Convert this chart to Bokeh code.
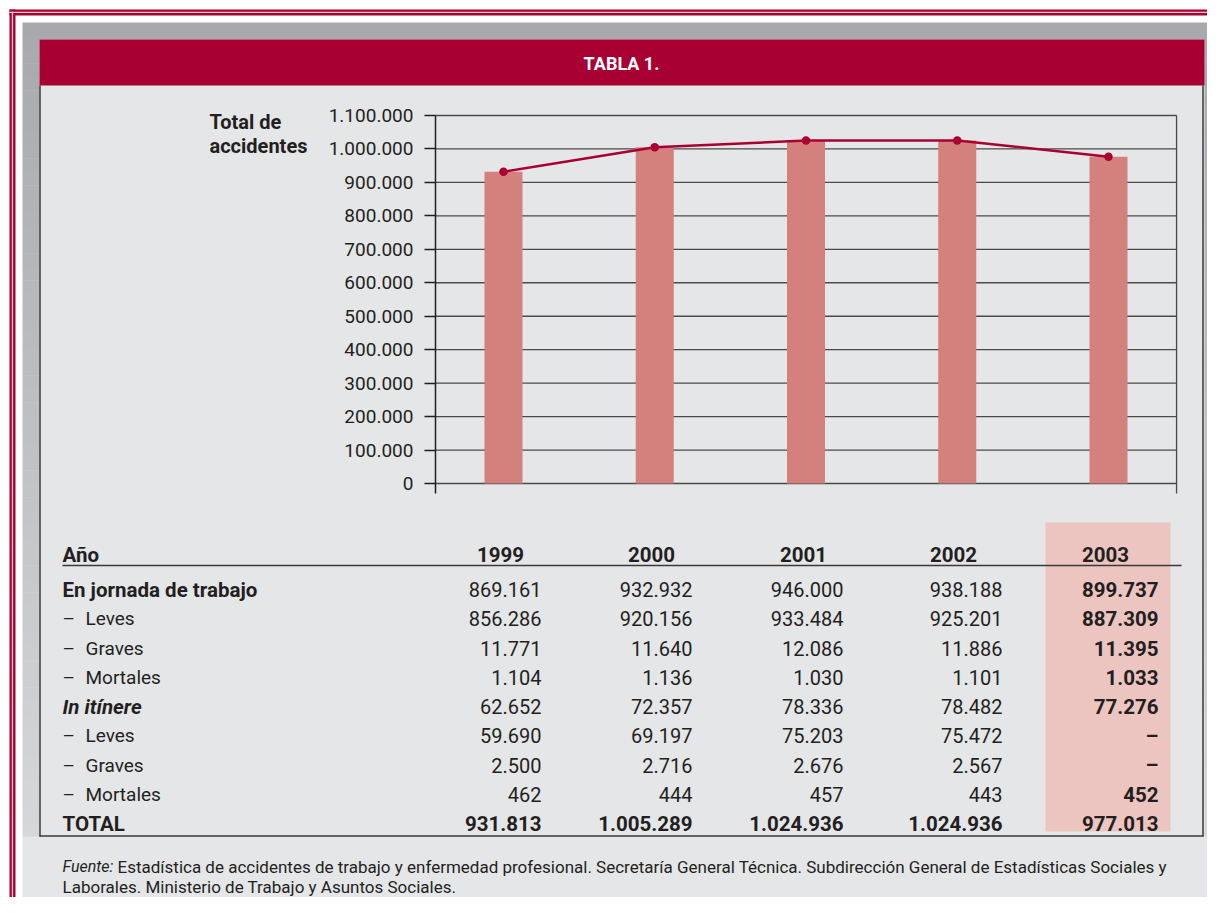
import numpy as np
from bokeh.plotting import figure
from bokeh.models import Range1d, LinearAxis, FixedTicker, ColumnDataSource
from bokeh.core.properties import value
from bokeh.embed import file_html
from bokeh.resources import INLINE

# ------------------------------------------------------------------ data
years = ["1999", "2000", "2001", "2002", "2003"]
total_accidents = [931813, 1005289, 1024936, 1024936, 977013]
y_ticks = [0, 100000, 200000, 300000, 400000, 500000, 600000, 700000,
           800000, 900000, 1000000, 1100000]
y_tick_labels = ["0", "100.000", "200.000", "300.000", "400.000", "500.000",
                 "600.000", "700.000", "800.000", "900.000", "1.000.000",
                 "1.100.000"]
title = "TABLA 1."
y_title = ["Total de", "accidentes"]
header_label = "Año"
row_labels = ["En jornada de trabajo", "Leves", "Graves", "Mortales",
              "In itínere", "Leves", "Graves", "Mortales", "TOTAL"]
row_kind = ["group", "sub", "sub", "sub", "group_italic", "sub", "sub", "sub",
            "total"]
v1999 = [869161, 856286, 11771, 1104, 62652, 59690, 2500, 462, 931813]
v2000 = [932932, 920156, 11640, 1136, 72357, 69197, 2716, 444, 1005289]
v2001 = [946000, 933484, 12086, 1030, 78336, 75203, 2676, 457, 1024936]
v2002 = [938188, 925201, 11886, 1101, 78482, 75472, 2567, 443, 1024936]
v2003 = [899737, 887309, 11395, 1033, 77276, None, None, 452, 977013]
note_italic = "Fuente:"
note_lines = [
    "Estadística de accidentes de trabajo y enfermedad profesional. Secretaría General Técnica. Subdirección General de Estadísticas Sociales y",
    "Laborales. Ministerio de Trabajo y Asuntos Sociales.",
]

# ------------------------------------------------------------------ styles
FONT = "Roboto"
TXT = "#231f20"
RED = "#a80032"
BAR = "#d4807c"
HILITE = "#ecc5c0"
PANEL = "#e5e6e8"
LINE = "#3a3a3a"

W, H = 1207, 897

p = figure(width=W, height=H, x_range=Range1d(0, W),
           y_range=Range1d(H, 0), output_backend="svg",
           toolbar_location=None, x_axis_type=None, y_axis_type=None,
           min_border=0, outline_line_color=None,
           background_fill_color="white", border_fill_color="white")

# ------------------------------------------------------------ decoration
# outer red rules
p.quad(left=9, right=W, top=9, bottom=15, color=RED, line_color=None)
p.quad(left=9, right=15, top=9, bottom=H, color=RED, line_color=None)
p.quad(left=9, right=W, top=11.3, bottom=12.6, color="#f3c9d3", line_color=None)
p.quad(left=11.3, right=12.6, top=11.3, bottom=H, color="#f3c9d3", line_color=None)

# grey frame with a soft vertical gradient
n_b = 60
edges = np.linspace(22, 836, n_b + 1)
c0 = np.array([168, 169, 173])
c1 = np.array([214, 215, 217])
cols = ["#%02x%02x%02x" % tuple(int(round(v)) for v in c0 + (c1 - c0) * t)
        for t in np.linspace(0, 1, n_b)]
p.quad(left=22, right=W, top=edges[:-1], bottom=edges[1:] + 0.5,
       color=cols, line_color=None)
p.quad(left=22, right=W, top=836, bottom=903, color=PANEL, line_color=None)

# inner panel and header
p.quad(left=39, right=1204, top=39, bottom=836, color=PANEL, line_color=None)
p.quad(left=39, right=1204, top=39, bottom=85, color=RED, line_color=None)
p.text(x=[621], y=[63], text=[title], text_color="white",
       text_font=value(FONT), text_font_style="bold",
       text_font_size=value("18px"), text_align="center",
       text_baseline="middle")
# panel / table box border
p.segment(x0=[39.5, 1202.5, 39], y0=[85, 85, 835.5],
          x1=[39.5, 1202.5, 1203], y1=[836, 836, 835.5],
          line_color=LINE, line_width=1.5)

# ------------------------------------------------------------------ chart
bar_x0, bar_dx = 503.0, 151.25      # pixel centre of first bar, spacing
py_zero, py_top = 483.0, 115.0      # pixel of 0 and of 1.100.000
y_top_val = y_ticks[-1]
sc = (py_zero - py_top) / y_top_val
p.extra_x_ranges = {"cx": Range1d((0 - bar_x0) / bar_dx, (W - bar_x0) / bar_dx)}
p.extra_y_ranges = {"cy": Range1d((py_zero - H) / sc, (py_zero - 0) / sc)}
x_lo, x_hi = -0.45, len(years) - 1 + 0.45
xi = list(range(len(years)))

# gridlines (below bars)
p.segment(x0=[x_lo] * len(y_ticks), x1=[x_hi] * len(y_ticks),
          y0=y_ticks, y1=y_ticks, x_range_name="cx", y_range_name="cy",
          line_color="#4a4a4a", line_width=1.3)
# right frame of chart
p.segment(x0=[x_hi], x1=[x_hi], y0=[-30000], y1=[y_top_val],
          x_range_name="cx", y_range_name="cy",
          line_color="#4a4a4a", line_width=1.3)

p.vbar(x=xi, top=total_accidents, bottom=0, width=38 / bar_dx,
       x_range_name="cx", y_range_name="cy", color=BAR, line_color=None)
p.line(x=xi, y=total_accidents, x_range_name="cx", y_range_name="cy",
       line_color=RED, line_width=2.5)
p.scatter(x=xi, y=total_accidents, x_range_name="cx", y_range_name="cy",
          size=8.5, color=RED, line_color=None)

ax = LinearAxis(x_range_name="cx", y_range_name="cy", fixed_location=x_lo,
                ticker=FixedTicker(ticks=y_ticks),
                major_label_overrides={t: l for t, l in zip(y_ticks, y_tick_labels)},
                bounds=(-30000, y_top_val),
                major_tick_out=11, major_tick_in=0,
                minor_tick_out=0, minor_tick_in=0,
                axis_line_color=TXT, axis_line_width=1.5,
                major_tick_line_color=TXT, major_tick_line_width=1.5,
                major_label_text_font=FONT,
                major_label_text_font_size="19px",
                major_label_text_color=TXT,
                major_label_standoff=11)
p.add_layout(ax, "left")

p.text(x=[209, 209], y=[121, 145], text=y_title, text_color=TXT,
       text_font=value(FONT), text_font_style="bold",
       text_font_size=value("20px"), text_align="left",
       text_baseline="alphabetic")

# ------------------------------------------------------------------ table
col_right = [541, 692, 843, 1002, 1158]
col_center = [500, 651, 803, 953, 1105]
header_base = 554
row_base0, row_step = 589, 29.25

# highlight of last year
p.quad(left=1045, right=1170, top=522, bottom=831, color=HILITE, line_color=None)
# rule under header
p.segment(x0=[62], x1=[1181], y0=[565], y1=[565], line_color=LINE, line_width=1.5)


def fmt(n):
    return "–" if n is None else f"{n:,}".replace(",", ".")


xs, ys, ts, st, al, fs = [], [], [], [], [], []
BOLD_FS, NUM_FS, LAB_FS = "20.5px", "20px", "19px"
# header
xs.append(62); ys.append(header_base); ts.append(header_label); st.append("bold"); al.append("left"); fs.append(BOLD_FS)
for c, yr in zip(col_center, years):
    xs.append(c); ys.append(header_base); ts.append(yr); st.append("bold"); al.append("center"); fs.append(BOLD_FS)

cols_vals = [v1999, v2000, v2001, v2002, v2003]
for i, (lab, kind) in enumerate(zip(row_labels, row_kind)):
    yb = row_base0 + i * row_step
    if kind == "sub":
        xs += [62, 85]; ys += [yb, yb]; ts += ["–", lab]
        st += ["normal", "normal"]; al += ["left", "left"]; fs += [LAB_FS, LAB_FS]
    else:
        xs.append(62); ys.append(yb); ts.append(lab)
        st.append("bold italic" if kind == "group_italic" else "bold")
        al.append("left"); fs.append(BOLD_FS)
    for j, (cr, vals) in enumerate(zip(col_right, cols_vals)):
        bold = kind == "total" or j == len(years) - 1
        xs.append(cr); ys.append(yb); ts.append(fmt(vals[i]))
        st.append("bold" if bold else "normal")
        al.append("right"); fs.append(BOLD_FS if bold else NUM_FS)

src = ColumnDataSource(dict(x=xs, y=ys, text=ts, style=st, align=al, fs=fs))
p.text(x="x", y="y", text="text", source=src, text_font_style="style",
       text_align="align", text_color=TXT, text_font=value(FONT),
       text_font_size="fs", text_baseline="alphabetic")

# ------------------------------------------------------------------ note
note_y1, note_y2 = 866, 886
p.text(x=[62], y=[note_y1], text=[note_italic], text_color=TXT,
       text_font=value(FONT), text_font_style="italic",
       text_font_size=value("16px"), text_baseline="alphabetic")
p.text(x=[117], y=[note_y1], text=[note_lines[0]], text_color=TXT,
       text_font=value(FONT), text_font_size=value("17px"),
       text_baseline="alphabetic")
p.text(x=[62], y=[note_y2], text=[note_lines[1]], text_color=TXT,
       text_font=value(FONT), text_font_size=value("17px"),
       text_baseline="alphabetic")

open("out.html", "w").write(file_html(p, INLINE))
